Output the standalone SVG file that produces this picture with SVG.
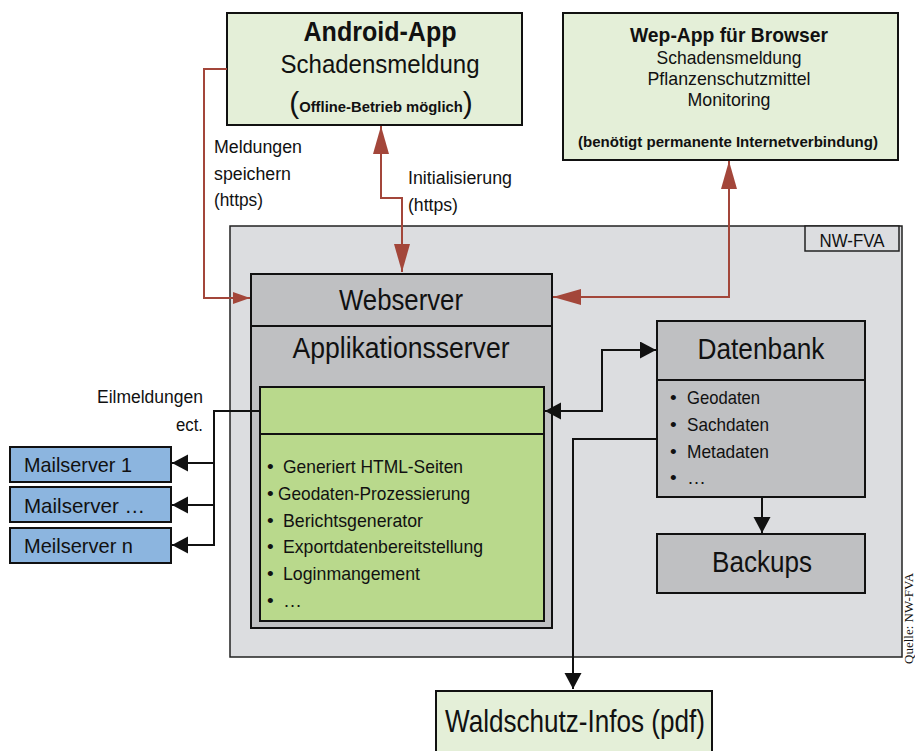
<svg xmlns="http://www.w3.org/2000/svg" width="915" height="751" viewBox="0 0 915 751">
<style>
text{font-family:"Liberation Sans Narrow","Liberation Sans",Arial,sans-serif;fill:#111}
.box{stroke:#111;stroke-width:2}
.lg{fill:#e4efd8}
.gr{fill:#b9d98c}
.g1{fill:#dcdde0}
.g2{fill:#bfc0c2}
.bl{fill:#8cb5df}
.red{fill:none;stroke:#a3463a;stroke-width:2}
.blk{fill:none;stroke:#111;stroke-width:2}
.c{text-anchor:middle}
.b{font-weight:bold}
</style>
<defs>
<marker id="ar" markerUnits="userSpaceOnUse" markerWidth="30" markerHeight="16" refX="28" refY="8" orient="auto-start-reverse"><path d="M0,0 L28,8 L0,16 Z" fill="#a3463a"/></marker>
<marker id="ars" markerUnits="userSpaceOnUse" markerWidth="18" markerHeight="12" refX="17" refY="6" orient="auto-start-reverse"><path d="M0,0 L17,6 L0,12 Z" fill="#a3463a"/></marker>
<marker id="ab" markerUnits="userSpaceOnUse" markerWidth="18" markerHeight="18" refX="16" refY="8.5" orient="auto-start-reverse"><path d="M0,0 L16,8.5 L0,17 Z" fill="#111"/></marker>
</defs>

<g id="nwfva">
<rect x="230" y="226" width="672" height="431" class="g1" stroke="#222" stroke-width="1.5"/>
<rect x="805" y="226" width="94" height="25" class="g1" stroke="#222" stroke-width="1.5"/>
<text x="852" y="247" class="c" font-size="19" textLength="65" lengthAdjust="spacingAndGlyphs">NW-FVA</text>
</g>

<g id="android">
<rect x="227" y="13" width="295" height="112" class="box lg"/>
<text x="380" y="41" class="c b" font-size="27" textLength="153" lengthAdjust="spacingAndGlyphs">Android-App</text>
<text x="380" y="73" class="c" font-size="26" textLength="199" lengthAdjust="spacingAndGlyphs">Schadensmeldung</text>
<text x="381" y="113" class="c" font-size="30">(<tspan class="b" font-size="14.8" dy="-1">Offline-Betrieb möglich</tspan><tspan dy="1">)</tspan></text>
</g>

<g id="webapp">
<rect x="563" y="13" width="335" height="147" class="box lg"/>
<text x="729" y="42" class="c b" font-size="21" textLength="198" lengthAdjust="spacingAndGlyphs">Wep-App für Browser</text>
<text x="729" y="64" class="c" font-size="19" textLength="145" lengthAdjust="spacingAndGlyphs">Schadensmeldung</text>
<text x="729" y="85" class="c" font-size="19" textLength="163" lengthAdjust="spacingAndGlyphs">Pflanzenschutzmittel</text>
<text x="729" y="106" class="c" font-size="19" textLength="83" lengthAdjust="spacingAndGlyphs">Monitoring</text>
<text x="728" y="147" class="c b" font-size="15" textLength="300" lengthAdjust="spacingAndGlyphs">(benötigt permanente Internetverbindung)</text>
</g>

<g id="appserver">
<rect x="251" y="274" width="301" height="354" class="box g2"/>
<line x1="251" y1="326" x2="552" y2="326" stroke="#111" stroke-width="2"/>
<text x="401" y="310" class="c" font-size="29" textLength="124" lengthAdjust="spacingAndGlyphs">Webserver</text>
<text x="401" y="358" class="c" font-size="29" textLength="217" lengthAdjust="spacingAndGlyphs">Applikationsserver</text>
</g>

<g id="app">
<rect x="260" y="387" width="284" height="234" class="box gr"/>
<line x1="260" y1="434" x2="544" y2="434" stroke="#111" stroke-width="2"/>
<g font-size="19">
<text x="267" y="473">•</text><text x="283" y="473" font-size="19" textLength="180" lengthAdjust="spacingAndGlyphs">Generiert HTML-Seiten</text>
<text x="267" y="500">•</text><text x="278" y="500" font-size="19" textLength="192" lengthAdjust="spacingAndGlyphs">Geodaten-Prozessierung</text>
<text x="267" y="527">•</text><text x="283" y="527" font-size="19" textLength="140" lengthAdjust="spacingAndGlyphs">Berichtsgenerator</text>
<text x="267" y="553">•</text><text x="283" y="553" font-size="19" textLength="200" lengthAdjust="spacingAndGlyphs">Exportdatenbereitstellung</text>
<text x="267" y="580">•</text><text x="283" y="580" font-size="19" textLength="137" lengthAdjust="spacingAndGlyphs">Loginmangement</text>
<text x="267" y="607">•</text><text x="283" y="607" font-size="19">…</text>
</g>
</g>

<g id="datenbank">
<rect x="657" y="321" width="208" height="176" class="box g2"/>
<line x1="657" y1="380" x2="865" y2="380" stroke="#111" stroke-width="2"/>
<text x="761" y="359" class="c" font-size="30" textLength="127" lengthAdjust="spacingAndGlyphs">Datenbank</text>
<g font-size="19">
<text x="670" y="404">•</text><text x="687" y="404" textLength="73" lengthAdjust="spacingAndGlyphs">Geodaten</text>
<text x="670" y="431">•</text><text x="687" y="431" textLength="82" lengthAdjust="spacingAndGlyphs">Sachdaten</text>
<text x="670" y="458">•</text><text x="687" y="458" textLength="82" lengthAdjust="spacingAndGlyphs">Metadaten</text>
<text x="670" y="484">•</text><text x="687" y="484">…</text>
</g>
</g>

<g id="backups">
<rect x="657" y="534" width="208" height="59" class="box g2"/>
<text x="762" y="572" class="c" font-size="30" textLength="100" lengthAdjust="spacingAndGlyphs">Backups</text>
</g>

<g id="mail1">
<rect x="10" y="447" width="161" height="35" class="box bl"/>
<text x="24" y="472" font-size="21" textLength="108" lengthAdjust="spacingAndGlyphs">Mailserver 1</text>
</g>
<g id="mail2">
<rect x="10" y="487" width="161" height="35" class="box bl"/>
<text x="24" y="513" font-size="21" textLength="121" lengthAdjust="spacingAndGlyphs">Mailserver …</text>
</g>
<g id="mail3">
<rect x="10" y="528" width="161" height="35" class="box bl"/>
<text x="24" y="553" font-size="21" textLength="109" lengthAdjust="spacingAndGlyphs">Meilserver n</text>
</g>

<g id="waldschutz">
<rect x="436" y="691" width="276" height="70" class="box lg"/>
<text x="575" y="732" class="c" font-size="32" textLength="260" lengthAdjust="spacingAndGlyphs">Waldschutz-Infos (pdf)</text>
</g>

<g id="connectors">
<path class="red" d="M227,69 H204 V298 H250" marker-end="url(#ars)"/>
<path class="red" d="M402,272 V198 H381 V126" marker-start="url(#ar)" marker-end="url(#ar)"/>
<path class="red" d="M553,297 H729 V161" marker-start="url(#ar)" marker-end="url(#ar)"/>
<path class="blk" d="M260,411 H214 V545 H172" marker-end="url(#ab)"/>
<path class="blk" d="M214,463 H172" marker-end="url(#ab)"/>
<path class="blk" d="M214,505 H172" marker-end="url(#ab)"/>
<path class="blk" d="M545,411 H602 V350 H656" marker-start="url(#ab)" marker-end="url(#ab)"/>
<path class="blk" d="M657,439 H573 V689" marker-end="url(#ab)"/>
<path class="blk" d="M762,497 V533" marker-end="url(#ab)"/>
</g>

<g id="labels" font-size="18">
<text x="214" y="153" textLength="88" lengthAdjust="spacingAndGlyphs">Meldungen</text>
<text x="214" y="180" textLength="77" lengthAdjust="spacingAndGlyphs">speichern</text>
<text x="214" y="206" textLength="49" lengthAdjust="spacingAndGlyphs">(https)</text>
<text x="408" y="184" textLength="104" lengthAdjust="spacingAndGlyphs">Initialisierung</text>
<text x="408" y="211" textLength="50" lengthAdjust="spacingAndGlyphs">(https)</text>
<text x="203" y="403" text-anchor="end" textLength="106" lengthAdjust="spacingAndGlyphs">Eilmeldungen</text>
<text x="203" y="431" text-anchor="end" textLength="27" lengthAdjust="spacingAndGlyphs">ect.</text>
</g>
<text transform="translate(913,664) rotate(-90)" font-size="13" style="font-family:'Liberation Serif',serif">Quelle: NW-FVA</text>
</svg>
